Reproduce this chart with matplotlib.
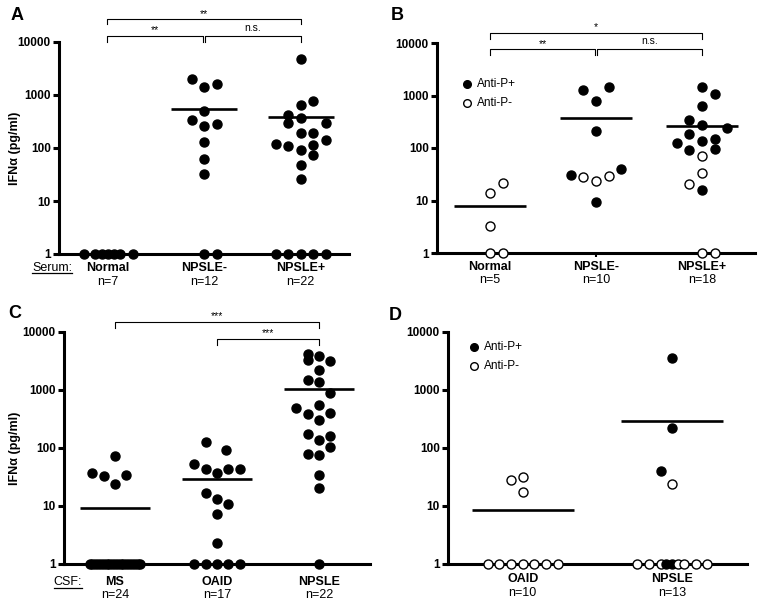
from matplotlib import pyplot as plt
from matplotlib.lines import Line2D

plt.rcParams['font.family'] = ['Liberation Sans', 'DejaVu Sans']

W, H = 763, 605

# panel A: serum, all patients
a_groups = ["Normal", "NPSLE-", "NPSLE+"]
a_counts = ["n=7", "n=12", "n=22"]
a_normal = [1, 1, 1, 1, 1, 1, 1]
a_normal_off = [-1.9, -1, -0.45, 0.05, 0.55, 1.05, 2.05]
a_neg = [2030, 1390, 1630, 490, 331, 255, 286, 127, 61.5, 32.5, 1, 1]
a_neg_off = [-1, 0, 1, 0, -1, 0, 1, 0, 0, 0, 0, 1]
a_pos = [4780, 757, 636, 417, 366, 290, 290, 190, 196, 118, 107, 115, 139,
         92, 74, 48, 26, 1, 1, 1, 1, 1]
a_pos_off = [0, 1, 0, -1, 0, -1, 2, 0, 1, -2, -1, 1, 2, 0, 1, 0, 0,
             -2, -1, 0, 1, 2]
a_means = [1, 542, 388]

# panel B: serum, anti-P split
b_groups = ["Normal", "NPSLE-", "NPSLE+"]
b_counts = ["n=5", "n=10", "n=18"]
b_normal = [21.9, 13.9, 3.2, 1, 1]
b_normal_off = [1, 0, 0, 0, 1]
b_normal_antip = [0, 0, 0, 0, 0]
b_neg = [1254, 1432, 797, 208, 31, 28.5, 23.9, 29.7, 40.4, 9.4]
b_neg_off = [-1, 1, 0, 0, -2, -1, 0, 1, 2, 0]
b_neg_antip = [1, 1, 1, 1, 1, 0, 0, 0, 1, 1]
b_pos = [1452, 1083, 622, 346, 278, 240, 188, 138, 148, 124, 93, 96,
         71.5, 33.4, 20.9, 15.6, 1, 1]
b_pos_off = [0, 1, 0, -1, 0, 2, -1, 0, 1, -2, -1, 1, 0, 0, -1, 0, 0, 1]
b_pos_antip = [1, 1, 1, 1, 1, 1, 1, 1, 1, 1, 1, 1, 0, 0, 0, 1, 0, 0]
b_means = [8.0, 373, 266]

# panel C: CSF
c_groups = ["MS", "OAID", "NPSLE"]
c_counts = ["n=24", "n=17", "n=22"]
c_ms = [74, 37.8, 33.5, 34.9, 23.8] + [1] * 19
c_ms_off = [0, -2, -1, 1, 0, -2.25, -2, -1.75, -1.5, -1.25, -1, -0.75, -0.5,
            -0.25, 0, 0.25, 0.5, 0.75, 1, 1.25, 1.5, 1.75, 2, 2.25]
c_oaid = [129, 92, 53, 43, 37.8, 43, 44, 17, 13, 10.9, 7.3, 2.27,
          1, 1, 1, 1, 1]
c_oaid_off = [-1, 0.8, -2, -1, 0, 1, 2, -1, 0, 1, 0, 0, -2, -1, 0, 1, 2]
c_npsle = [4170, 3900, 3330, 3120, 2240, 1460, 1352, 885, 481, 556, 384, 399,
           299, 176, 135, 158, 106, 79, 76, 34.4, 20.2, 1]
c_npsle_off = [-1, 0, -1, 1, 0, -1, 0, 1, -2, 0, -1, 1, 0, -1, 0, 1, 1, -1,
               0, 0, 0, 0]
c_means = [9.1, 29, 1037]

# panel D: CSF, anti-P split
d_groups = ["OAID", "NPSLE"]
d_counts = ["n=10", "n=13"]
d_oaid = [28.2, 32.1, 17.1, 1, 1, 1, 1, 1, 1, 1]
d_oaid_off = [-1, 0, 0, -3, -2, -1, 0, 1, 2, 3]
d_oaid_antip = [0, 0, 0, 0, 0, 0, 0, 0, 0, 0]
d_npsle = [3620, 218, 40, 23.7, 1, 1, 1, 1, 1, 1, 1, 1, 1]
d_npsle_off = [0, 0, -1, 0, -3, -2, -1, -0.5, 0, 0.5, 1, 2, 3]
d_npsle_antip = [1, 1, 1, 0, 0, 0, 0, 1, 1, 0, 0, 0, 0]
d_means = [8.4, 295]

yticks = [1, 10, 100, 1000, 10000]


def px_axes(fig, left, top, right, bottom):
    return fig.add_axes([left / W, 1 - bottom / H, (right - left) / W,
                         (bottom - top) / H])


def setup(ax, ngroups):
    ax.set_yscale('log')
    ax.set_ylim(1, 10000)
    ax.set_xlim(-0.5, ngroups - 0.5)
    for s in ['top', 'right']:
        ax.spines[s].set_visible(False)
    for s in ['left', 'bottom']:
        ax.spines[s].set_linewidth(2.2)
    ax.set_yticks(yticks)
    ax.set_yticklabels([str(t) for t in yticks], fontweight='bold', fontsize=8.5)
    ax.minorticks_off()
    ax.tick_params(axis='y', length=4.5, width=2.2, pad=1.5)
    ax.set_xticks(range(ngroups))
    ax.set_xticklabels([])
    ax.tick_params(axis='x', length=3, width=1.5)
    ax.patch.set_alpha(0)


def dots(ax, i, vals, offs, step, antip=None):
    ppu = ax.get_position().width * W / (ax.get_xlim()[1] - ax.get_xlim()[0])
    for k, v in enumerate(vals):
        x = i + offs[k] * step / ppu
        filled = antip is None or antip[k] == 1
        ax.plot(x, v, 'o', ms=6.5, mec='black', mew=1.0,
                mfc='black' if filled else 'white', clip_on=False, zorder=4)


def means(ax, vals):
    for i, m in enumerate(vals):
        ax.plot([i - 0.34, i + 0.34], [m, m], color='black', lw=1.9,
                solid_capstyle='butt', clip_on=False, zorder=3)


def bracket(ax, i, j, y, y2, label):
    tr = ax.get_xaxis_transform()
    ax.plot([i, i, j, j], [y2, y, y, y2], color='black', lw=0.8,
            transform=tr, clip_on=False)
    dy = 3 if label == 'n.s.' else 0.5
    ax.annotate(label, xy=((i + j) / 2, y), xycoords=tr, xytext=(0, dy),
                textcoords='offset pixels', ha='center', va='bottom',
                fontsize=7.5)


def xlabels(ax, groups, counts, d1, d2):
    tr = ax.get_xaxis_transform()
    for i, g in enumerate(groups):
        ax.annotate(g, xy=(i, 0), xycoords=tr, xytext=(0, -d1),
                    textcoords='offset pixels', ha='center', va='center',
                    fontsize=9, fontweight='bold')
        ax.annotate(counts[i], xy=(i, 0), xycoords=tr, xytext=(0, -d2),
                    textcoords='offset pixels', ha='center', va='center',
                    fontsize=9)


def legend(fig, x, y):
    fig.add_artist(Line2D([x / W], [1 - y / H], marker='o', ms=5.5,
                          mfc='black', mec='black', mew=1.0, ls=''))
    fig.add_artist(Line2D([x / W], [1 - (y + 19) / H], marker='o', ms=5.5,
                          mfc='white', mec='black', mew=1.0, ls=''))
    fig.text((x + 10) / W, 1 - y / H, "Anti-P+", fontsize=8.5, va='center')
    fig.text((x + 10) / W, 1 - (y + 19) / H, "Anti-P-", fontsize=8.5,
             va='center')


def underlined(fig, x, y, s):
    t = fig.text(x / W, 1 - y / H, s, fontsize=9, ha='center', va='center')
    fig.canvas.draw()
    bb = t.get_window_extent()
    yy = bb.y0 + 0.5
    fig.add_artist(Line2D([bb.x0 / W, bb.x1 / W], [yy / H, yy / H],
                          color='black', lw=0.9))


def main():
    fig = plt.figure(figsize=(W / 100, H / 100), dpi=100)

    ax = px_axes(fig, 59, 42, 349, 254)
    setup(ax, 3)
    means(ax, a_means)
    dots(ax, 0, a_normal, a_normal_off, 12.5)
    dots(ax, 1, a_neg, a_neg_off, 12.5)
    dots(ax, 2, a_pos, a_pos_off, 12.5)
    bracket(ax, 0, 2, 1.108, 1.085, "**")
    bracket(ax, 0, 0.99, 1.028, 1.0, "**")
    bracket(ax, 1.01, 2, 1.028, 1.0, "n.s.")
    xlabels(ax, a_groups, a_counts, 14, 28)

    ax = px_axes(fig, 437, 43, 755, 253)
    setup(ax, 3)
    means(ax, b_means)
    dots(ax, 0, b_normal, b_normal_off, 12.7, b_normal_antip)
    dots(ax, 1, b_neg, b_neg_off, 12.7, b_neg_antip)
    dots(ax, 2, b_pos, b_pos_off, 12.7, b_pos_antip)
    bracket(ax, 0, 2, 1.048, 1.019, "*")
    bracket(ax, 0, 0.99, 0.971, 0.943, "**")
    bracket(ax, 1.01, 2, 0.971, 0.943, "n.s.")
    xlabels(ax, b_groups, b_counts, 14, 27)
    legend(fig, 467, 84)

    ax = px_axes(fig, 64, 332, 370, 564)
    setup(ax, 3)
    means(ax, c_means)
    dots(ax, 0, c_ms, c_ms_off, 11.3)
    dots(ax, 1, c_oaid, c_oaid_off, 11.3)
    dots(ax, 2, c_npsle, c_npsle_off, 11.3)
    bracket(ax, 0, 2, 1.043, 1.017, "***")
    bracket(ax, 1, 2, 0.970, 0.944, "***")
    xlabels(ax, c_groups, c_counts, 18, 31)

    ax = px_axes(fig, 448, 332, 747, 564)
    setup(ax, 2)
    means(ax, d_means)
    dots(ax, 0, d_oaid, d_oaid_off, 11.7, d_oaid_antip)
    dots(ax, 1, d_npsle, d_npsle_off, 11.7, d_npsle_antip)
    xlabels(ax, d_groups, d_counts, 15, 29)
    legend(fig, 474, 347)

    for letter, x, y in [("A", 17, 15), ("B", 397, 15), ("C", 15, 313),
                         ("D", 395, 315)]:
        fig.text(x / W, 1 - y / H, letter, fontsize=13, fontweight='bold',
                 ha='center', va='center')
    fig.text(15 / W, 1 - 148 / H, "IFN\u03b1 (pg/ml)", rotation=90,
             fontsize=9, fontweight='bold', ha='center', va='center')
    fig.text(15 / W, 1 - 448 / H, "IFN\u03b1 (pg/ml)", rotation=90,
             fontsize=9, fontweight='bold', ha='center', va='center')
    underlined(fig, 52, 268, "Serum:")
    underlined(fig, 68, 582, "CSF:")

    fig.savefig("out.png", dpi=100)


if __name__ == "__main__":
    main()
